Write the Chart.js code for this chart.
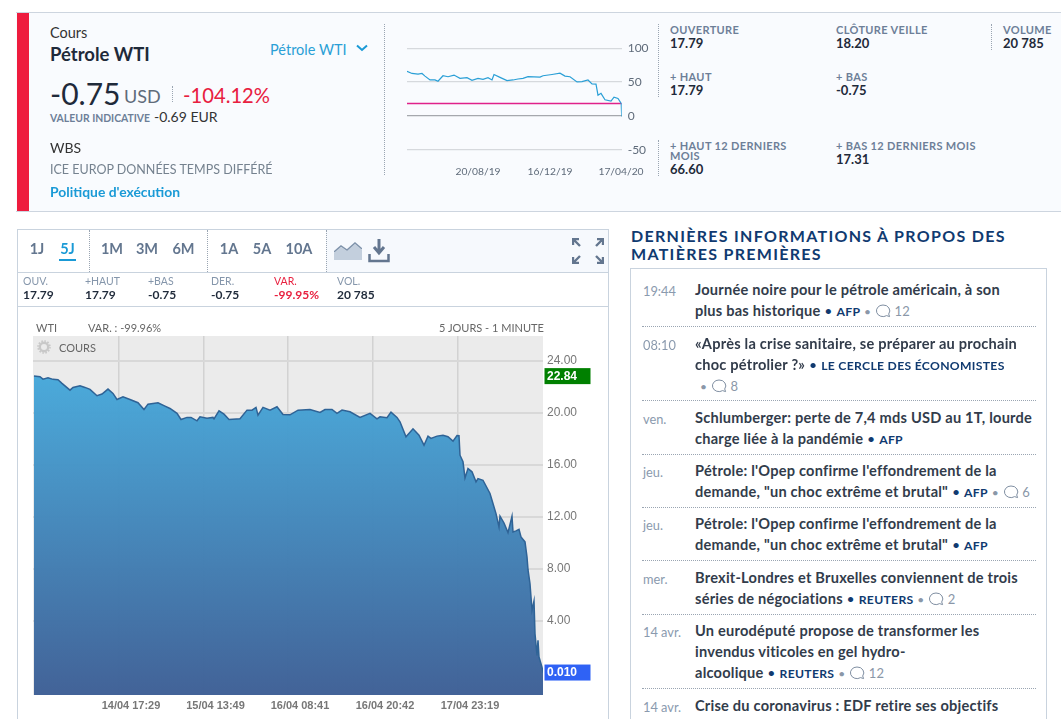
<!DOCTYPE html>
<html lang="fr">
<head>
<meta charset="utf-8">
<title>Pétrole WTI</title>
<script src="https://cdn.jsdelivr.net/npm/chart.js@4"></script>
<style>
  html, body { margin: 0; padding: 0; background: #fff; overflow: hidden; }
  body { width: 1061px; height: 719px; position: relative; font-family: Lato, "Noto Sans", sans-serif; color: #1f2a3a; }
  canvas { position: absolute; display: block; }
  .box { position: absolute; box-sizing: border-box; }
  .t { position: absolute; white-space: nowrap; transform: translateY(-50%); line-height: 1; }
  .lbl { font-size: 11px; font-weight: 700; color: #6d7f98; letter-spacing: .35px; }
  .val { font-size: 13px; font-weight: 700; color: #1f2a3a; }
  .tab { font-size: 14.5px; font-weight: 700; color: #63768f; transform: translate(-50%, -50%); }
  .sl { font-size: 10.5px; color: #8596ab; }
  .sv { font-size: 12px; font-weight: 700; color: #1f2a3a; }
  .hd { font-size: 11px; color: #666; font-family: Lato, sans-serif; }
  .when { font-size: 12.8px; color: #8a9aae; }
  .news { font-size: 14.6px; font-weight: 700; color: #323c4b; letter-spacing: .22px; }
  .news b { font-weight: 700; font-size: 12.2px; color: #103a70; letter-spacing: .3px; }
  .news i { font-style: normal; color: #8a97a8; font-size: 12px; font-weight: 400; }
  .news svg { vertical-align: -3px; }
  .vd { position: absolute; width: 0; border-left: 1px dotted #9aa5b2; }
  .hdot { position: absolute; height: 0; border-top: 1px dotted #9aa5b2; left: 642px; width: 394px; }
</style>
</head>
<body>
<div class="box" style="left:16px;top:12px;width:1045px;height:200px;background:#f9fbfe;border-top:1px solid #cdd5df;border-bottom:1px solid #cdd5df"></div>
<div class="box" style="left:17px;top:13px;width:12px;height:198px;background:#ee1c3e"></div>
<div class="vd" style="left:384px;top:24px;height:151px"></div>
<div class="vd" style="left:658px;top:24px;height:73px"></div>
<div class="vd" style="left:658px;top:140px;height:36px"></div>
<div class="vd" style="left:991px;top:24px;height:26px"></div>
<div class="vd" style="left:172px;top:86px;height:16px"></div>

<div class="box" style="left:17px;top:229px;width:592px;height:500px;border:1px solid #c9d3de"></div>
<div class="box" style="left:326px;top:230px;width:282px;height:42px;background:#f6f9fd"></div>
<div class="box" style="left:18px;top:272px;width:590px;height:0;border-top:1px solid #c9d3de"></div>
<div class="box" style="left:18px;top:306px;width:590px;height:0;border-top:1px solid #c9d3de"></div>
<div class="vd" style="left:89px;top:230px;height:42px"></div>
<div class="vd" style="left:207px;top:230px;height:42px"></div>
<div class="vd" style="left:326px;top:230px;height:42px"></div>
<div class="box" style="left:59px;top:259px;width:17px;height:2px;background:#1a9ad6"></div>

<svg class="box" style="left:334px;top:242px" width="28" height="18" viewBox="0 0 28 18"><path d="M0 11 L7 5 L13 9 L21 2 L28 8 V18 H0Z" fill="#c3cfdd"/><path d="M0 10 L7 4 L13 8 L21 1 L28 7" fill="none" stroke="#7f93ab" stroke-width="1.5"/></svg>
<svg class="box" style="left:368px;top:238px" width="22" height="25" viewBox="0 0 22 25"><path d="M11 1 V13 M6 9 L11 15 L16 9" fill="none" stroke="#63768f" stroke-width="3"/><path d="M1.5 16 V23 H20.5 V16" fill="none" stroke="#63768f" stroke-width="2.5"/></svg>
<svg class="box" style="left:572px;top:238px" width="32" height="26" viewBox="0 0 32 26"><g fill="none" stroke="#63768f" stroke-width="2.4"><path d="M1 1 L8 8 M1 7 V1 H7"/><path d="M31 1 L24 8 M31 7 V1 H25"/><path d="M1 25 L8 18 M1 19 V25 H7"/><path d="M31 25 L24 18 M31 19 V25 H25"/></g></svg>
<svg class="box" style="left:356px;top:44px" width="12" height="8" viewBox="0 0 12 8"><path d="M1 1.5 L6 6 L11 1.5" fill="none" stroke="#1a9ad6" stroke-width="2"/></svg>

<canvas id="spark" width="258" height="155" style="left:400px;top:35px"></canvas>
<canvas id="price" width="590" height="399" style="left:17px;top:320px"></canvas>
<svg class="box" style="left:37px;top:340px" width="14" height="14" viewBox="0 0 14 14"><circle cx="7" cy="7" r="4.2" fill="none" stroke="#c8c8c8" stroke-width="2.4"/><circle cx="7" cy="7" r="6" fill="none" stroke="#c8c8c8" stroke-width="1.6" stroke-dasharray="1.6 1.5"/></svg>

<div class="box" style="left:630px;top:268px;width:417px;height:470px;border:1px solid #c9d3de"></div>

<script>
// Last five sessions, one position per chart slot
const priceSlots = [1, 7, 10, 15, 20, 25, 29, 37, 40, 47, 52, 57, 64, 69, 75, 80, 84, 90, 97, 105, 111, 115, 125, 132, 137, 144, 148, 154, 158, 164, 167, 174, 180, 181, 186, 191, 196, 207, 214, 219, 223, 225, 230, 237, 244, 250, 257, 265, 277, 287, 292, 299, 304, 309, 317, 327, 337, 344, 347, 354, 358, 364, 367, 373, 380, 386, 391, 395, 398, 404, 410, 415, 420, 424, 426, 427, 430, 432, 435, 439, 443, 445, 450, 457, 459, 463, 466, 467, 471, 475, 479, 480, 483, 486, 488, 492, 494, 495, 497, 499, 501, 502, 504, 505, 506, 509, 510];
const priceValues = [22.84, 22.79, 22.61, 22.71, 22.59, 22.56, 22.28, 21.76, 21.97, 22.10, 21.97, 21.82, 21.33, 21.46, 21.84, 21.51, 21.04, 21.25, 21.04, 20.79, 20.27, 20.68, 20.79, 20.53, 20.35, 19.97, 19.50, 19.66, 19.66, 19.40, 19.71, 19.60, 19.66, 19.55, 20.17, 19.91, 19.50, 19.55, 20.22, 20.22, 20.43, 19.84, 20.43, 20.22, 20.48, 19.89, 19.86, 20.22, 20.27, 20.04, 20.27, 20.27, 19.97, 20.22, 20.09, 19.66, 19.97, 19.55, 19.71, 19.63, 20.07, 19.66, 19.32, 18.17, 18.78, 18.29, 17.52, 18.22, 18.04, 18.22, 18.29, 18.17, 17.83, 18.27, 18.25, 16.75, 16.24, 15.00, 15.72, 15.47, 14.70, 14.95, 14.82, 13.80, 13.28, 12.25, 11.22, 12.05, 11.53, 10.79, 12.05, 10.84, 10.92, 11.04, 10.45, 10.07, 8.91, 7.93, 6.85, 4.80, 5.52, 3.00, 1.33, 2.49, 1.20, 0.43, 0.01];
const priceTicks = [4, 8, 12, 16, 20, 24];
const priceTimeSlots = [86, 170.5, 255, 340, 425];
const priceTimeLabels = ["14/04 17:29", "15/04 13:49", "16/04 08:41", "16/04 20:42", "17/04 23:19"];
const highValue = 22.84;
const lastValue = 0.01;

// Twelve month view
const sparkSlots = [0, 5, 11, 15, 18, 23, 28, 31, 36, 41, 47, 53, 60, 65, 71, 76, 81, 85, 87, 93, 100, 106, 111, 116, 121, 133, 136, 145, 153, 158, 163, 170, 175, 181, 185, 189, 191, 194, 198, 204, 207, 211, 214.2, 214.7];
const sparkValues = [66.0, 62.7, 61.7, 62.7, 58.8, 53.1, 53.1, 51.2, 59.3, 57.9, 60.3, 55.5, 56.4, 52.6, 55.5, 54.0, 56.4, 53.1, 61.2, 56.9, 52.1, 53.1, 54.5, 55.5, 57.9, 57.4, 59.3, 61.2, 63.1, 58.8, 57.9, 50.2, 50.7, 53.1, 47.3, 46.9, 30.6, 33.4, 23.9, 22.0, 27.7, 25.8, 18.6, -0.75];
const sparkTicks = [100, 50, 0, -50];
const sparkDateSlots = [71, 143, 214];
const sparkDateLabels = ["20/08/19", "16/12/19", "17/04/20"];
const previousClose = 18.20;

const statRows = [
  [670, 29, 670, 42.5, "OUVERTURE", "17.79"],
  [836, 29, 836, 42.5, "CLÔTURE VEILLE", "18.20"],
  [1003, 29, 1003, 42.5, "VOLUME", "20 785"],
  [670, 76, 670, 89.5, "+ HAUT", "17.79"],
  [836, 76, 836, 89.5, "+ BAS", "-0.75"],
  [836, 145, 836, 158.5, "+ BAS 12 DERNIERS MOIS", "17.31"]
];
const tabLabels = ["1J", "5J", "1M", "3M", "6M", "1A", "5A", "10A"];
const tabCentres = [37, 67.5, 112, 147, 183.5, 229, 262, 299];
const quoteLabels = ["OUV.", "+HAUT", "+BAS", "DER.", "VAR.", "VOL."];
const quoteValues = ["17.79", "17.79", "-0.75", "-0.75", "-99.95%", "20 785"];
const quoteLefts = [23, 85, 148, 211, 274, 337];

const BUBBLE = '<svg width="16" height="15" viewBox="0 0 16 15"><path d="M8 1.5a6.5 5.8 0 1 0 3.6 10.6l3 1-.9-2.6A6.5 5.8 0 0 0 8 1.5z" fill="none" stroke="#7f8ea1" stroke-width="1"/></svg>';
const sep = '<i style="color:#103a70;font-size:14px"> • </i>';
const dot = ' <i>•</i> ';
const comments = (n) => dot + BUBBLE + '<i style="font-size:13px"> ' + n + "</i>";

const newsWhen = ["19:44", "08:10", "ven.", "jeu.", "jeu.", "mer.", "14 avr.", "14 avr."];
const newsWhenRows = [291, 345, 419, 472, 525, 579, 632, 707];
const newsLines = [
  [290, "Journée noire pour le pétrole américain, à son"],
  [311, "plus bas historique" + sep + "<b>AFP</b>" + comments(12)],
  [344, "«Après la crise sanitaire, se préparer au prochain"],
  [365, "choc pétrolier ?»" + sep + "<b>LE CERCLE DES ÉCONOMISTES</b>"],
  [386, '<span style="margin-left:5px"></span>' + dot + BUBBLE + '<i style="font-size:13px"> 8</i>'],
  [418, "Schlumberger: perte de 7,4 mds USD au 1T, lourde"],
  [439, "charge liée à la pandémie" + sep + "<b>AFP</b>"],
  [471, "Pétrole: l'Opep confirme l'effondrement de la"],
  [492, 'demande, "un choc extrême et brutal"' + sep + "<b>AFP</b>" + comments(6)],
  [524, "Pétrole: l'Opep confirme l'effondrement de la"],
  [545, 'demande, "un choc extrême et brutal"' + sep + "<b>AFP</b>"],
  [578, "Brexit-Londres et Bruxelles conviennent de trois"],
  [599, "séries de négociations" + sep + "<b>REUTERS</b>" + comments(2)],
  [631, "Un eurodéputé propose de transformer les"],
  [652, "invendus viticoles en gel hydro-"],
  [673, "alcoolique" + sep + "<b>REUTERS</b>" + comments(12)],
  [706, "Crise du coronavirus : EDF retire ses objectifs"]
];
const newsRules = [326, 400, 454, 507, 560, 614, 688];

function put(x, y, html, cls, css) {
  const el = document.createElement("div");
  el.className = "t " + (cls || "");
  el.style.left = x + "px";
  el.style.top = y + "px";
  if (css) el.style.cssText += css;
  el.innerHTML = html;
  document.body.appendChild(el);
  return el;
}

// quote panel
put(50, 33, "Cours", "", "font-size:14.5px;color:#333");
put(50, 54, "Pétrole WTI", "", "font-size:18.5px;font-weight:700");
put(270, 50, "Pétrole WTI", "", "font-size:14.5px;color:#2a9fd6");
put(50, 93, "-0.75", "", "font-size:30px");
put(124, 96, "USD", "", "font-size:18px;color:#5f6b7a");
put(183, 95, "-104.12%", "", "font-size:20.2px;color:#e8203f");
put(50, 118, "VALEUR INDICATIVE", "", "font-size:10.4px;font-weight:700;color:#6d7f98");
put(154, 117, "-0.69 EUR", "", "font-size:14px;color:#333");
put(50, 148, "WBS", "", "font-size:14px;color:#333");
put(50, 170, "ICE EUROP DONNÉES TEMPS DIFFÉRÉ", "", "font-size:12.5px;color:#75828f");
put(50, 192, "Politique d'exécution", "", "font-size:13.9px;font-weight:700;color:#1a9ad6");

statRows.forEach(([lx, ly, vx, vy, label, value]) => {
  put(lx, ly, label, "lbl");
  put(vx, vy, value, "val");
});
put(670, 145, "+ HAUT 12 DERNIERS", "lbl");
put(670, 155, "MOIS", "lbl");
put(670, 168.5, "66.60", "val");

// chart toolbar
tabLabels.forEach((label, i) => {
  put(tabCentres[i], 249, label, "tab", i === 1 ? "color:#1a9ad6" : "");
});
quoteLabels.forEach((label, i) => {
  put(quoteLefts[i], 281, label, "sl", i === 4 ? "color:#e8203f" : "");
  put(quoteLefts[i], 295, quoteValues[i], "sv", i === 4 ? "color:#e8203f" : "");
});
put(36, 327, "WTI", "hd");
put(88, 327, "VAR. : -99.96%", "hd");
put(439, 327, "5 JOURS - 1 MINUTE", "hd");
put(59, 347, "COURS", "hd");

// news column
put(631, 236, "DERNIÈRES INFORMATIONS À PROPOS DES", "", "font-size:16px;font-weight:700;color:#103a70;letter-spacing:1.3px");
put(631, 254, "MATIÈRES PREMIÈRES", "", "font-size:16px;font-weight:700;color:#103a70;letter-spacing:1.3px");
newsWhen.forEach((label, i) => put(643, newsWhenRows[i], label, "when"));
newsLines.forEach(([y, html]) => put(695, y, html, "news"));
newsRules.forEach((y) => {
  const rule = document.createElement("div");
  rule.className = "hdot";
  rule.style.top = y + "px";
  document.body.appendChild(rule);
});

const priceCtx = document.getElementById("price").getContext("2d");
const priceFill = priceCtx.createLinearGradient(0, 56, 0, 375);
priceFill.addColorStop(0, "rgba(70,168,218,0.97)");
priceFill.addColorStop(1, "rgba(63,96,150,0.98)");

const plotBackground = {
  id: "plotBackground",
  beforeDraw(chart) {
    const { ctx, chartArea: a } = chart;
    ctx.save();
    ctx.fillStyle = "#ebebeb";
    ctx.fillRect(a.left, a.top, a.width, a.height);
    ctx.restore();
  },
};

function badge(chart, value, label, color) {
  const { ctx, chartArea: a, scales } = chart;
  const y = scales.y.getPixelForValue(value);
  ctx.save();
  ctx.fillStyle = color;
  ctx.fillRect(a.right + 1.5, y - 8, 46, 16);
  ctx.fillStyle = "#fff";
  ctx.font = "bold 12px 'Liberation Sans'";
  ctx.textBaseline = "middle";
  ctx.fillText(label, a.right + 4, y + 0.5);
  ctx.restore();
}

const priceBadges = {
  id: "priceBadges",
  afterDraw(chart) {
    badge(chart, highValue, highValue.toFixed(2), "#008000");
    badge(chart, lastValue, lastValue.toFixed(3), "#2f62f5");
  },
};

new Chart(priceCtx, {
  type: "line",
  data: {
    datasets: [
      {
        data: priceSlots.map((slot, i) => ({ x: slot, y: priceValues[i] })),
        borderColor: "#2f6396",
        borderWidth: 1.5,
        backgroundColor: priceFill,
        fill: "start",
        tension: 0,
        pointRadius: 0,
      },
    ],
  },
  options: {
    responsive: false,
    animation: false,
    layout: { padding: { left: 16, top: 16 } },
    plugins: { legend: { display: false }, tooltip: { enabled: false } },
    scales: {
      x: {
        type: "linear",
        min: 0,
        max: 510,
        afterBuildTicks: (axis) => { axis.ticks = priceTimeSlots.map((value) => ({ value })); },
        afterFit: (axis) => { axis.height = 24; },
        border: { display: false },
        grid: { color: "#d2d2d2", lineWidth: 1.5, drawTicks: false },
        ticks: {
          autoSkip: false,
          maxRotation: 0,
          padding: 4,
          labelOffset: 12,
          color: "#777",
          font: { family: "'Liberation Sans'", size: 11, weight: "bold" },
          callback: (value) => priceTimeLabels[priceTimeSlots.indexOf(value)],
        },
      },
      y: {
        position: "right",
        min: -1.72,
        max: 25.93,
        afterBuildTicks: (axis) => { axis.ticks = priceTicks.map((value) => ({ value })); },
        afterFit: (axis) => { axis.width = 64; },
        border: { display: false },
        grid: { color: "#d8d8d8", lineWidth: 2, drawTicks: false },
        ticks: {
          padding: 4,
          color: "#777",
          font: { family: "'Liberation Sans'", size: 12 },
          callback: (value) => value.toFixed(2),
        },
      },
    },
  },
  plugins: [plotBackground, priceBadges],
});

new Chart(document.getElementById("spark"), {
  type: "line",
  data: {
    datasets: [
      {
        data: sparkSlots.map((slot, i) => ({ x: slot, y: sparkValues[i] })),
        borderColor: "#2a9fd6",
        borderWidth: 1.2,
        fill: false,
        tension: 0,
        pointRadius: 0,
      },
      {
        data: [{ x: 0, y: previousClose }, { x: 214.7, y: previousClose }],
        borderColor: "#e0228a",
        borderWidth: 1.5,
        pointRadius: 0,
      },
    ],
  },
  options: {
    responsive: false,
    animation: false,
    layout: { padding: { left: 7, top: 10.2 } },
    plugins: { legend: { display: false }, tooltip: { enabled: false } },
    scales: {
      x: {
        type: "linear",
        min: 0,
        max: 214.7,
        afterBuildTicks: (axis) => { axis.ticks = sparkDateSlots.map((value) => ({ value })); },
        afterFit: (axis) => { axis.height = 40.2; },
        border: { display: false },
        grid: { display: false },
        ticks: {
          autoSkip: false,
          maxRotation: 0,
          padding: 8,
          color: "#5f6b7a",
          font: { family: "Lato", size: 10.3 },
          callback: (value) => sparkDateLabels[sparkDateSlots.indexOf(value)],
        },
      },
      y: {
        position: "right",
        min: -50,
        max: 100,
        afterBuildTicks: (axis) => { axis.ticks = sparkTicks.map((value) => ({ value })); },
        afterFit: (axis) => { axis.width = 36.3; },
        border: { display: false },
        grid: {
          color: (c) => (c.tick.value === 0 ? "#a5a8ad" : "#d6d9dd"),
          lineWidth: 1.3,
          drawTicks: false,
        },
        ticks: { padding: 6, color: "#5f6b7a", font: { family: "Lato", size: 12 } },
      },
    },
  },
});
</script>
</body>
</html>
